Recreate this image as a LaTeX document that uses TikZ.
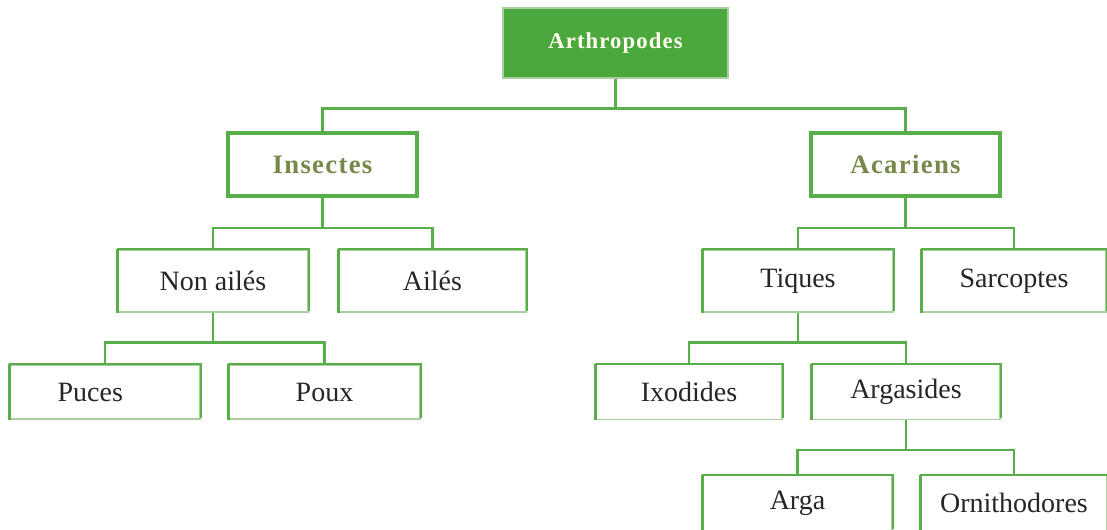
\documentclass[tikz,border=0pt]{standalone}
\usepackage{fontspec}
\setmainfont{Liberation Serif}
\newfontfamily\hdfont[LetterSpace=5]{Liberation Serif}
\usetikzlibrary{calc}
\definecolor{gline}{HTML}{58AE48}
\definecolor{gfill}{HTML}{4AA83C}
\definecolor{gpale}{HTML}{A9CFA0}
\definecolor{olive}{HTML}{76894A}
\tikzset{
  x=0.75pt, y=-0.75pt,
  conn/.style={draw=gline, line width=2pt},
  box/.style={draw=gpale, line width=1pt, minimum width=#1*0.75pt, inner sep=0pt,
    font=\fontsize{21}{24}\selectfont, text=black!85},
  box/.default=190,
  boxh/.style={minimum height=#1*0.75pt},
  edge/.style={draw=gline, line width=1.6pt},
  ledge/.style={draw=gline, line width=2.4pt},
  headbox/.style={draw=gline, line width=3pt, minimum width=189*0.75pt, minimum height=63*0.75pt,
    inner sep=0pt, font=\hdfont\bfseries\fontsize{20}{24}\selectfont, text=olive},
  topbox/.style={fill=gfill, draw=gpale, line width=1pt, minimum width=225*0.75pt, minimum height=70*0.75pt,
    inner sep=0pt, font=\hdfont\bfseries\fontsize{17}{20}\selectfont, text=white!94!yellow},
}
\begin{document}
\begin{tikzpicture}
\useasboundingbox (0,0) rectangle (1107,530);
\fill[white] (0,0) rectangle (1107,530);

\node[topbox] (A) at (615.5,43) {Arthropodes};
\node[headbox] (Ins) at (322.5,164.5) {Insectes};
\node[headbox] (Aca) at (905.5,164.5) {Acariens};

\node[box=190, boxh=62] (NA) at (213,281) {Non ailés};
\node[box=187, boxh=62] (Ai) at (432.5,281) {Ailés};
\node[box=190, boxh=54] (Pu) at (105,392) {\hspace*{-22pt}Puces};
\node[box=191, boxh=54] (Po) at (324.5,392) {Poux};

\node[box=190, boxh=62] (Ti) at (798,281) {Tiques};
\node[box=184, boxh=62] (Sa) at (1014,281) {Sarcoptes};
\node[box=186, boxh=55] (Ix) at (689,392) {Ixodides};
\node[box=188, boxh=55] (Ar) at (906,392) {Argasides};
\node[box=189, boxh=55] (Ag) at (797.5,503) {Arga};
\node[box=186, boxh=55] (Or) at (1014,503) {Ornithodores};

% green left and top edges of plain boxes
\foreach \n in {NA,Ai,Pu,Po,Ti,Sa,Ix,Ar,Ag,Or}{
  \draw[edge] (\n.north west) -- (\n.north east) -- ($(\n.south east)+(0,-2)$);
  \draw[ledge] (\n.south west) -- (\n.north west);
}

% connectors
\draw[conn] (A.south) -- ++(0,30) -| (Ins.north);
\draw[conn] (A.south) -- ++(0,30) -| (Aca.north);
\draw[conn] (Ins.south) -- ++(0,30) -| (NA.north);
\draw[conn] (Ins.south) -- ++(0,30) -| (Ai.north);
\draw[conn] (NA.south) -- ++(0,30) -| (Pu.north);
\draw[conn] (NA.south) -- ++(0,30) -| (Po.north);
\draw[conn] (Aca.south) -- ++(0,30) -| (Ti.north);
\draw[conn] (Aca.south) -- ++(0,30) -| (Sa.north);
\draw[conn] (Ti.south) -- ++(0,30) -| (Ix.north);
\draw[conn] (Ti.south) -- ++(0,30) -| (Ar.north);
\draw[conn] (Ar.south) -- ++(0,30) -| (Ag.north);
\draw[conn] (Ar.south) -- ++(0,30) -| (Or.north);
\end{tikzpicture}
\end{document}
